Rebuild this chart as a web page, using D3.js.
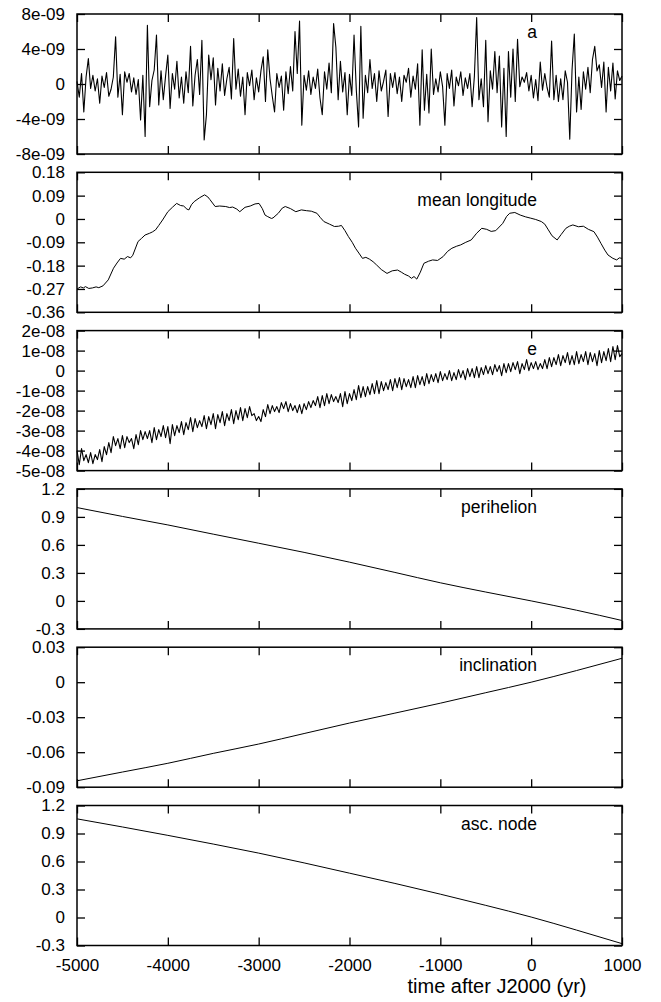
<!DOCTYPE html>
<html>
<head>
<meta charset="utf-8">
<script src="https://cdn.jsdelivr.net/npm/d3@7"></script>
<style>
  html, body { margin: 0; padding: 0; background: #fff; }
  svg { display: block; }
  text { font-family: "Liberation Sans", Arial, Helvetica, sans-serif; fill: #000; }
</style>
</head>
<body>
<script>
// ---------------- DATA ----------------
const xTicks = [-5000, -4000, -3000, -2000, -1000, 0, 1000];
const xTickLabels = ["-5000", "-4000", "-3000", "-2000", "-1000", "0", "1000"];
const xTitle = "time after J2000 (yr)";

// sample grid (yr) for the two noisy series
const sampleYears = d3.range(-5000, 1001, 25);

// a  (units of 1e-9)
const aValues = [
  0.3, -1.5, 1.2, -3.2, 0.8, 2.9, -0.5, 1.0, -0.8, 0.6,
  -2.2, 0.9, -0.4, 1.3, -1.4, -0.6, 0.8, 5.4, -1.5, 1.1,
  -3.5, 1.4, 0.2, 1.2, -0.9, 0.7, -1.2, 0.5, -4.1, 1.0,
  -6.0, 6.7, -2.6, 0.4, 1.6, 5.6, -2.4, 1.5, -1.8, 0.9,
  3.3, -2.8, 1.2, -0.6, 2.6, -1.6, 0.8, -2.2, 1.4, -1.0,
  4.3, -2.5, 1.0, 2.8, -1.2, 5.0, -6.4, -3.5, 3.3, 0.5,
  3.0, -2.4, 1.8, -0.8, 2.3, -1.3, 0.6, 1.9, -1.7, 5.2,
  -0.6, 1.7, -1.4, 0.8, -3.5, 1.3, -0.2, 1.6, -1.8, 0.7,
  -0.9, 1.5, 3.1, -2.0, 3.9, 0.6, -1.4, -3.2, 1.2, -0.4,
  0.9, -3.0, 1.4, -1.1, 2.0, -0.8, 6.0, 1.2, 7.2, -4.7,
  1.0, -0.7, 1.5, -1.2, 0.8, -0.5, 1.7, -1.6, -3.5, 1.4,
  -0.6, 2.4, -1.0, 6.9, 4.2, -1.8, 2.6, -0.9, 1.3, -3.5,
  1.1, -1.3, 5.6, -0.7, -4.9, 6.6, -3.9, 1.0, -1.0, 2.8,
  -0.5, 1.2, -2.0, 1.5, -0.8, 0.3, 1.6, -3.7, 1.2, -0.4,
  1.3, -1.1, 0.8, -2.0, 1.0, 0.2, 1.8, -1.5, 0.9, -0.6,
  2.3, -4.7, 3.9, -3.0, 1.1, -3.3, 4.0, -1.2, 0.6, -0.9,
  1.4, -0.3, -4.7, 1.2, -0.5, 1.6, -2.5, 0.8, -0.2, 1.4,
  -1.3, 0.7, -0.5, 1.2, -2.6, 0.9, 7.6, -1.8, 0.6, -2.6,
  5.0, -4.3, 1.5, -0.6, 3.7, -1.0, 3.2, -4.9, 1.8, -6.0,
  3.7, -1.5, 4.0, -2.0, 5.1, -0.3, 0.8, 0.2, 1.3, -0.8,
  1.0, -1.6, 0.5, -1.9, 2.5, -0.7, 1.2, -0.4, -1.5, 4.9,
  -1.8, 1.0, -2.0, 0.6, -1.8, 1.5, 0.2, -6.3, 1.6, 5.7,
  -3.2, 0.8, -2.9, 1.4, -0.6, 1.9, -1.0, 2.8, 4.3, 1.5,
  2.2, -0.4, 2.5, -3.2, 1.9, -0.8, 2.4, -1.7, 1.5, 0.4,
  0.9
];

// e  (units of 1e-8)
const eValues = [
  -4.0, -4.7, -3.9, -4.5, -4.2, -4.6, -4.1, -4.65, -4.2, -4.45,
  -3.95, -4.55, -3.8, -4.2, -3.6, -4.1, -3.3, -3.75, -3.4, -3.9,
  -3.25, -3.85, -3.3, -3.6, -3.4, -3.9, -3.2, -3.7, -3.0, -3.45,
  -3.05, -3.4, -3.0, -3.6, -2.85, -3.45, -2.95, -3.3, -2.75, -3.35,
  -2.8, -3.65, -2.7, -3.25, -2.75, -3.1, -2.55, -3.2, -2.6, -2.95,
  -2.35, -3.05, -2.4, -2.85, -2.5, -2.8, -2.25, -2.9, -2.3, -2.7,
  -2.15, -2.9, -2.2, -2.6, -2.05, -2.75, -2.15, -2.5, -1.95, -2.65,
  -2.0, -2.45, -1.85, -2.5, -1.9, -2.35, -1.8, -2.25, -2.15, -2.5,
  -2.3, -2.55, -1.95, -2.3, -1.7, -2.15, -1.75, -2.05, -1.8, -2.1,
  -1.6, -1.9, -1.55, -2.05, -1.65, -2.0, -1.75, -2.1, -1.7, -2.15,
  -1.65, -1.95, -1.55, -1.85, -1.5, -1.75, -1.3, -1.85, -1.25, -1.75,
  -1.15, -1.65, -1.2, -1.55, -1.3, -1.6, -1.15, -1.8, -1.05, -1.65,
  -1.15, -1.5, -0.95, -1.45, -0.75, -1.35, -0.8, -1.3, -0.8, -1.2,
  -0.65, -1.15, -0.5, -1.15, -0.55, -1.0, -0.6, -0.95, -0.45, -1.0,
  -0.4, -0.85, -0.35, -0.95, -0.4, -0.8, -0.45, -0.85, -0.3, -0.85,
  -0.25, -0.7, -0.3, -0.75, -0.15, -0.65, -0.2, -0.55, -0.15, -0.6,
  -0.05, -0.5, -0.15, -0.45, 0.0, -0.5, -0.1, -0.45, 0.05, -0.35,
  0.0, -0.45, 0.1, -0.3, 0.1, -0.35, 0.2, -0.35, 0.15, -0.2,
  0.25, -0.15, 0.2, -0.2, 0.3, -0.05, 0.25, -0.25, 0.35, -0.1,
  0.35, -0.05, 0.4, 0.05, 0.45, -0.15, 0.35, 0.05, 0.55, 0.0,
  0.4, 0.1, 0.45, 0.05, 0.35, 0.1, 0.55, 0.1, 0.65, 0.2,
  0.65, 0.3, 0.8, 0.25, 0.75, 0.4, 0.9, 0.3, 0.75, 0.3,
  0.95, 0.35, 0.8, 0.45, 0.95, 0.3, 0.9, 0.45, 0.85, 0.25,
  1.0, 0.4, 0.95, 0.5, 1.1, 0.45, 1.2, 0.55, 1.25, 0.7,
  0.85
];

// mean longitude
const mlYears = [
  -5000, -4960, -4930, -4907, -4870, -4830, -4790, -4760, -4714, -4656,
  -4598, -4560, -4521, -4480, -4444, -4410, -4386, -4328, -4290, -4251,
  -4200, -4170, -4135, -4100, -4058, -4000, -3950, -3903, -3860, -3826,
  -3790, -3768, -3740, -3710, -3650, -3595, -3560, -3537, -3479, -3430,
  -3363, -3320, -3286, -3240, -3208, -3150, -3093, -3040, -2996, -2960,
  -2930, -2900, -2860, -2842, -2784, -2740, -2707, -2650, -2591, -2530,
  -2475, -2420, -2359, -2320, -2282, -2220, -2166, -2120, -2089, -2050,
  -2012, -1970, -1934, -1890, -1857, -1820, -1780, -1740, -1703, -1650,
  -1587, -1530, -1471, -1430, -1394, -1350, -1317, -1290, -1259, -1220,
  -1181, -1130, -1085, -1030, -969, -920, -873, -820, -776, -720,
  -660, -600, -544, -490, -440, -390, -313, -270, -236, -180,
  -120, -60, -4, 50, 112, 150, 189, 230, 286, 330,
  382, 420, 459, 520, 575, 630, 691, 730, 768, 810,
  846, 900, 942, 970, 1000
];
const mlValues = [
  -0.27, -0.262, -0.266, -0.261, -0.268, -0.266, -0.262, -0.265, -0.258, -0.235,
  -0.19, -0.17, -0.152, -0.155, -0.145, -0.15, -0.14, -0.087, -0.075, -0.062,
  -0.055, -0.05, -0.042, -0.025, -0.004, 0.028, 0.045, 0.06, 0.052, 0.05,
  0.038, 0.035, 0.055, 0.067, 0.082, 0.093, 0.085, 0.075, 0.048, 0.05,
  0.048, 0.044, 0.046, 0.038, 0.028, 0.045, 0.05, 0.058, 0.06, 0.04,
  0.015, 0.009, 0.002, 0.004, 0.022, 0.042, 0.048, 0.04, 0.028, 0.035,
  0.032, 0.03, 0.022, 0.005, -0.01, -0.02, -0.029, -0.028, -0.025, -0.045,
  -0.068, -0.09, -0.113, -0.135, -0.152, -0.148, -0.155, -0.165, -0.177, -0.195,
  -0.21, -0.2, -0.197, -0.205, -0.213, -0.22, -0.229, -0.222, -0.232, -0.205,
  -0.171, -0.163, -0.158, -0.16, -0.145, -0.125, -0.113, -0.105, -0.1, -0.09,
  -0.081, -0.055, -0.036, -0.04, -0.048, -0.045, -0.017, 0.01, 0.022, 0.025,
  0.015, 0.008, 0.003, -0.002, -0.01, -0.02, -0.042, -0.065, -0.081, -0.06,
  -0.036, -0.028, -0.023, -0.03, -0.028, -0.04, -0.049, -0.07, -0.094, -0.12,
  -0.139, -0.152, -0.158, -0.15, -0.152
];

// perihelion, inclination, ascending node (read every 500 yr)
const smoothYears = [-5000, -4500, -4000, -3500, -3000, -2500, -2000, -1500, -1000, -500, 0, 500, 1000];
const periValues = [1.0, 0.905, 0.814, 0.715, 0.618, 0.52, 0.415, 0.305, 0.194, 0.095, 0.0, -0.1, -0.21];
const inclValues = [-0.0845, -0.077, -0.0695, -0.061, -0.053, -0.044, -0.035, -0.0265, -0.018, -0.009, 0.0, 0.01, 0.0205];
const nodeValues = [1.057, 0.97, 0.88, 0.787, 0.69, 0.585, 0.475, 0.365, 0.25, 0.13, 0.005, -0.135, -0.28];

// y tick values / labels per panel
const aTicks = [-8, -4, 0, 4, 8];
const aTickLabels = ["-8e-09", "-4e-09", "0", "4e-09", "8e-09"];
const mlTicks = [-0.36, -0.27, -0.18, -0.09, 0, 0.09, 0.18];
const mlTickLabels = ["-0.36", "-0.27", "-0.18", "-0.09", "0", "0.09", "0.18"];
const eTicks = [-5, -4, -3, -2, -1, 0, 1, 2];
const eTickLabels = ["-5e-08", "-4e-08", "-3e-08", "-2e-08", "-1e-08", "0", "1e-08", "2e-08"];
const periTicks = [-0.3, 0, 0.3, 0.6, 0.9, 1.2];
const periTickLabels = ["-0.3", "0", "0.3", "0.6", "0.9", "1.2"];
const inclTicks = [-0.09, -0.06, -0.03, 0, 0.03];
const inclTickLabels = ["-0.09", "-0.06", "-0.03", "0", "0.03"];
const nodeTicks = [-0.3, 0, 0.3, 0.6, 0.9, 1.2];
const nodeTickLabels = ["-0.3", "0", "0.3", "0.6", "0.9", "1.2"];

const panelNames = ["a", "mean longitude", "e", "perihelion", "inclination", "asc. node"];

// ---------------- LAYOUT ----------------
const W = 661, H = 1002;
const left = 77, right = 622;
const top0 = 14, step = 158.3, ph = 140;
const labelRight = 537;

const panels = [
  { name: panelNames[0], xs: sampleYears, ys: aValues, dom: [-8, 8], ticks: aTicks, labels: aTickLabels, ly: 24, sw: 1.1, curve: d3.curveLinear },
  { name: panelNames[1], xs: mlYears, ys: mlValues, dom: [-0.36, 0.18], ticks: mlTicks, labels: mlTickLabels, ly: 33.5, sw: 1.0, curve: d3.curveLinear },
  { name: panelNames[2], xs: sampleYears, ys: eValues, dom: [-5, 2], ticks: eTicks, labels: eTickLabels, ly: 24.5, sw: 1.1, curve: d3.curveLinear },
  { name: panelNames[3], xs: smoothYears, ys: periValues, dom: [-0.3, 1.2], ticks: periTicks, labels: periTickLabels, ly: 24.5, sw: 1.0, curve: d3.curveMonotoneX },
  { name: panelNames[4], xs: smoothYears, ys: inclValues, dom: [-0.09, 0.03], ticks: inclTicks, labels: inclTickLabels, ly: 24, sw: 1.0, curve: d3.curveMonotoneX },
  { name: panelNames[5], xs: smoothYears, ys: nodeValues, dom: [-0.3, 1.2], ticks: nodeTicks, labels: nodeTickLabels, ly: 24, sw: 1.0, curve: d3.curveMonotoneX }
];

const svg = d3.select("body").append("svg").attr("width", W).attr("height", H);
const x = d3.scaleLinear().domain([-5000, 1000]).range([left, right]);

panels.forEach((p, i) => {
  const top = top0 + step * i, bottom = top + ph;
  const y = d3.scaleLinear().domain(p.dom).range([bottom, top]);
  const g = svg.append("g");

  // data line
  g.append("path")
    .datum(p.xs.map((xv, k) => [xv, p.ys[k]]))
    .attr("fill", "none").attr("stroke", "#000").attr("stroke-width", p.sw)
    .attr("stroke-linejoin", "round")
    .attr("d", d3.line().x(d => x(d[0])).y(d => y(d[1])).curve(p.curve));

  // axes
  const yl = g.append("g").attr("transform", `translate(${left},0)`)
    .call(d3.axisLeft(y).tickValues(p.ticks).tickSize(-8).tickPadding(12)
      .tickFormat((d, k) => p.labels[k]));
  const yr = g.append("g").attr("transform", `translate(${right},0)`)
    .call(d3.axisRight(y).tickValues(p.ticks).tickSize(-8).tickFormat(""));
  const xt = g.append("g").attr("transform", `translate(0,${top})`)
    .call(d3.axisTop(x).tickValues(xTicks).tickSize(-8).tickFormat(""));
  const xb = g.append("g").attr("transform", `translate(0,${bottom})`)
    .call(d3.axisBottom(x).tickValues(xTicks).tickSize(-8).tickPadding(13)
      .tickFormat((d, k) => i === panels.length - 1 ? xTickLabels[k] : ""));
  [yl, yr, xt, xb].forEach(a => {
    a.select(".domain").remove();
    a.selectAll("line").attr("stroke", "#000").attr("stroke-width", 1.3);
    a.selectAll("text").style("font-size", "17px").attr("fill", "#000")
      .style("font-family", '"Liberation Sans", Arial, sans-serif');
  });

  // frame
  g.append("rect").attr("x", left).attr("y", top).attr("width", right - left).attr("height", ph)
    .attr("fill", "none").attr("stroke", "#000").attr("stroke-width", 1.5);

  // panel label
  g.append("text").attr("x", labelRight).attr("y", top + p.ly).attr("text-anchor", "end")
    .style("font-size", "17.5px").text(p.name);
});

svg.append("text").attr("x", 497).attr("y", 993).attr("text-anchor", "middle")
  .style("font-size", "20px").text(xTitle);
</script>
</body>
</html>
